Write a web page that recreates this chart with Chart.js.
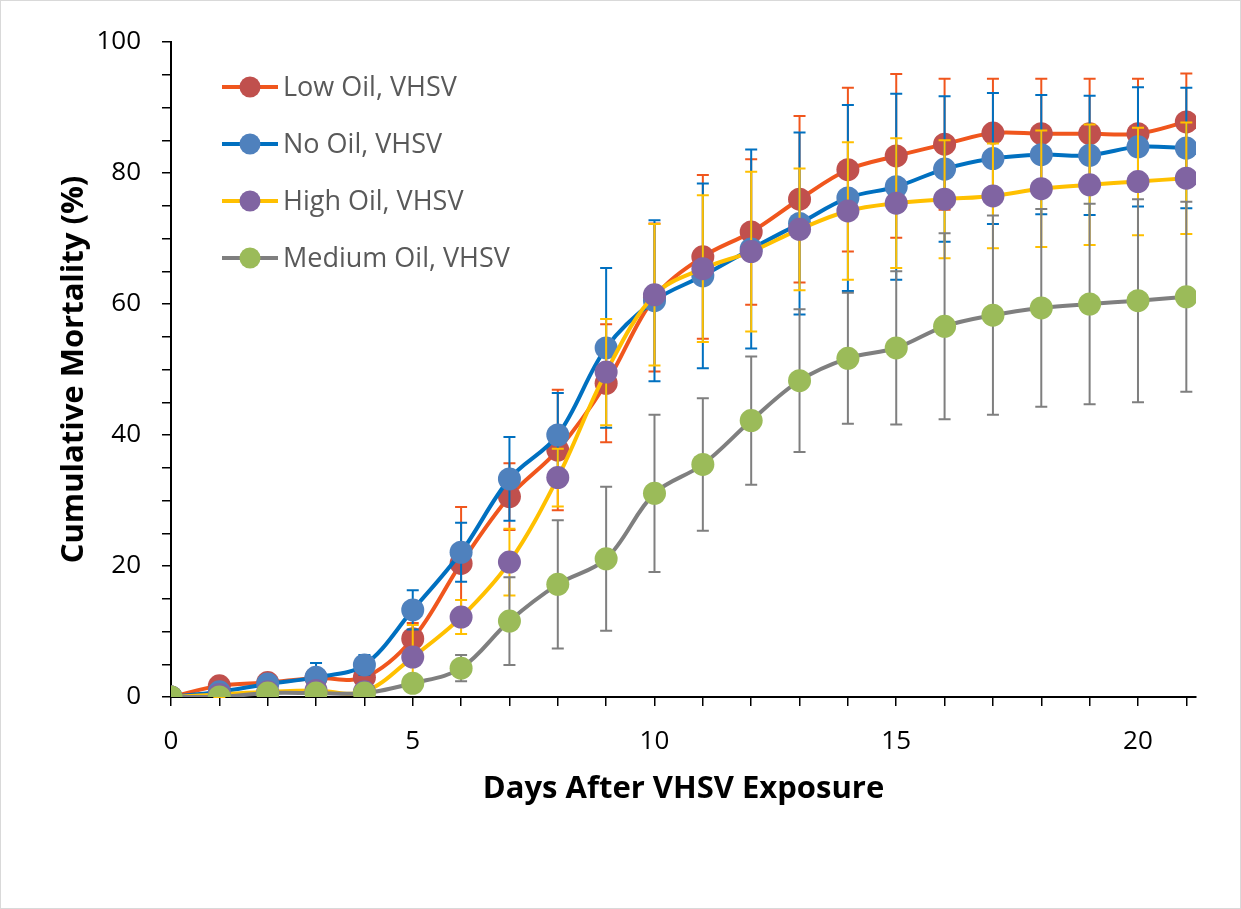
<!DOCTYPE html>
<html>
<head>
<meta charset="utf-8">
<script src="https://cdn.jsdelivr.net/npm/chart.js@4.4.1/dist/chart.umd.min.js"></script>
<style>
  html, body { margin: 0; padding: 0; background: #fff; }
  #wrap { width: 1241px; height: 909px; }
</style>
</head>
<body>
<div id="wrap"><canvas id="myChart" width="1241" height="909"></canvas></div>
<script>
// days after exposure
const days = [0, 1, 2, 3, 4, 5, 6, 7, 8, 9, 10, 11, 12, 13, 14, 15, 16, 17, 18, 19, 20, 21];

// cumulative mortality (%) and error bar half-widths
const lowOil = [0, 1.7, 2.2, 2.9, 3.0, 8.9, 20.4, 30.6, 37.7, 47.9, 61.0, 67.2, 71.0, 76.0, 80.5, 82.6, 84.4, 86.1, 86.0, 86.0, 86.0, 87.8];
const lowOilErr = [0, 0.6, 0.7, 0.8, 1.2, 2.4, 8.6, 5.1, 9.2, 9.0, 11.3, 12.5, 11.1, 12.7, 12.5, 12.5, 10.0, 8.3, 8.4, 8.4, 8.4, 7.4];

const noOil = [0, 0.8, 2.0, 3.0, 4.9, 13.3, 22.1, 33.3, 40.0, 53.3, 60.5, 64.3, 68.4, 72.3, 76.2, 77.9, 80.6, 82.2, 82.8, 82.7, 84.0, 83.8];
const noOilErr = [0, 0.5, 0.8, 2.2, 1.5, 3.0, 4.5, 6.4, 6.4, 12.2, 12.3, 14.1, 15.2, 13.9, 14.2, 14.2, 11.1, 10.0, 9.1, 9.1, 9.1, 9.2];

const highOil = [0, 0.4, 0.8, 1.0, 0.8, 6.1, 12.2, 20.6, 33.5, 49.6, 61.4, 65.4, 68.0, 71.4, 74.2, 75.4, 76.0, 76.5, 77.6, 78.2, 78.7, 79.2];
const highOilErr = [0, 0.4, 0.5, 0.6, 0.6, 4.9, 2.6, 5.1, 4.4, 8.1, 10.8, 11.2, 12.2, 9.3, 10.5, 9.9, 9.0, 8.0, 8.9, 9.2, 8.2, 8.5];

const mediumOil = [0, 0, 0.6, 0.6, 0.6, 2.1, 4.4, 11.6, 17.2, 21.1, 31.1, 35.5, 42.2, 48.3, 51.7, 53.3, 56.6, 58.3, 59.4, 60.0, 60.5, 61.1];
const mediumOilErr = [0, 0, 0.3, 0.3, 0.3, 0.8, 2.0, 6.7, 9.8, 11.0, 12.0, 10.1, 9.8, 10.9, 10.0, 11.7, 14.2, 15.2, 15.1, 15.3, 15.5, 14.5];

const FONT = "'Open Sans', sans-serif";

function makeSeries(label, values, errs, lineColor, markerColor, order) {
  return {
    label: label,
    data: days.map((d, i) => ({ x: d, y: values[i] })),
    errors: errs,
    borderColor: lineColor,
    backgroundColor: markerColor,
    pointBackgroundColor: markerColor,
    pointBorderWidth: 0,
    pointRadius: 11.5,
    pointHoverRadius: 11.5,
    borderWidth: 4,
    tension: 0.35,
    fill: false,
    order: order,
  };
}

// error bars, drawn just before each series so its own line sits over them
const errorBars = {
  id: "errorBars",
  beforeDatasetDraw(chart, args) {
    const ds = chart.data.datasets[args.index];
    const meta = args.meta;
    const yScale = chart.scales.y;
    const ctx = chart.ctx;
    ctx.save();
    ctx.strokeStyle = ds.borderColor;
    ctx.lineWidth = 2;
    meta.data.forEach((pt, i) => {
      const e = ds.errors[i];
      if (!e) return;
      const v = ds.data[i].y;
      const top = yScale.getPixelForValue(v + e);
      const bot = yScale.getPixelForValue(v - e);
      ctx.beginPath();
      ctx.moveTo(pt.x, top); ctx.lineTo(pt.x, bot);
      ctx.moveTo(pt.x - 6, top); ctx.lineTo(pt.x + 6, top);
      ctx.moveTo(pt.x - 6, bot); ctx.lineTo(pt.x + 6, bot);
      ctx.stroke();
    });
    ctx.restore();
  },
};

// legend inside the plot, top left, in the source's series order
const insideLegend = {
  id: "insideLegend",
  afterDraw(chart) {
    const ctx = chart.ctx;
    const x0 = 222, y0 = 87, gap = 57;
    ctx.save();
    chart.data.datasets.forEach((ds, i) => {
      const y = y0 + i * gap;
      ctx.strokeStyle = ds.borderColor;
      ctx.lineWidth = 4;
      ctx.beginPath();
      ctx.moveTo(x0, y); ctx.lineTo(x0 + 56, y);
      ctx.stroke();
      ctx.fillStyle = ds.pointBackgroundColor;
      ctx.beginPath();
      ctx.arc(x0 + 28, y, 10.5, 0, Math.PI * 2);
      ctx.fill();
      ctx.fillStyle = "#595959";
      ctx.font = "27px " + FONT;
      ctx.textBaseline = "middle";
      ctx.fillText(ds.label, x0 + 61, y + 1);
    });
    ctx.restore();
  },
};

const frame = {
  id: "frame",
  beforeDraw(chart) {
    const ctx = chart.ctx;
    ctx.save();
    ctx.fillStyle = "#fff";
    ctx.fillRect(0, 0, chart.width, chart.height);
    ctx.strokeStyle = "#d9d9d9";
    ctx.lineWidth = 1;
    ctx.strokeRect(0.5, 0.5, chart.width - 1, chart.height - 1);
    ctx.restore();
  },
};

let myChart = document.getElementById("myChart").getContext("2d");
let mortalityChart = new Chart(myChart, {
  type: "line",
  data: {
    datasets: [
      makeSeries("Low Oil, VHSV", lowOil, lowOilErr, "#F0561D", "#C0504D", 4),
      makeSeries("No Oil, VHSV", noOil, noOilErr, "#0070C0", "#4F81BD", 3),
      makeSeries("High Oil, VHSV", highOil, highOilErr, "#FFC000", "#8064A2", 2),
      makeSeries("Medium Oil, VHSV", mediumOil, mediumOilErr, "#7F7F7F", "#9BBB59", 1),
    ],
  },
  options: {
    responsive: false,
    animation: false,
    layout: { padding: { left: 56, top: 42, right: 45, bottom: 101 } },
    plugins: {
      legend: { display: false },
      tooltip: { enabled: false },
    },
    scales: {
      x: {
        type: "linear",
        min: 0,
        max: 21.2,
        afterFit(scale) { scale.height = 111; },
        border: { display: true, color: "#000", width: 2 },
        grid: { display: true, drawOnChartArea: false, drawTicks: true, tickLength: 9, color: "#000", lineWidth: 1.5 },
        ticks: {
          stepSize: 1,
          autoSkip: false,
          includeBounds: false,
          maxRotation: 0,
          padding: 20,
          color: "#000",
          font: { family: FONT, size: 26 },
          callback: (v) => (v % 5 === 0 ? v : ""),
        },
        title: {
          display: true,
          text: "Days After VHSV Exposure",
          color: "#000",
          font: { family: FONT, size: 31, weight: "bold" },
          padding: { top: 8, bottom: 0 },
        },
      },
      y: {
        min: 0,
        max: 100,
        afterFit(scale) { scale.width = 115; },
        border: { display: true, color: "#000", width: 2 },
        grid: { display: true, drawOnChartArea: false, drawTicks: true, tickLength: 9, color: "#000", lineWidth: 1.5 },
        ticks: {
          stepSize: 5,
          autoSkip: false,
          padding: 21,
          color: "#000",
          font: { family: FONT, size: 26 },
          callback: (v) => (v % 20 === 0 ? v : ""),
        },
        title: {
          display: true,
          text: "Cumulative Mortality (%)",
          color: "#000",
          font: { family: FONT, size: 31, weight: "bold" },
          padding: { top: 0, bottom: 2 },
        },
      },
    },
  },
  plugins: [frame, errorBars, insideLegend],
});
</script>
</body>
</html>
